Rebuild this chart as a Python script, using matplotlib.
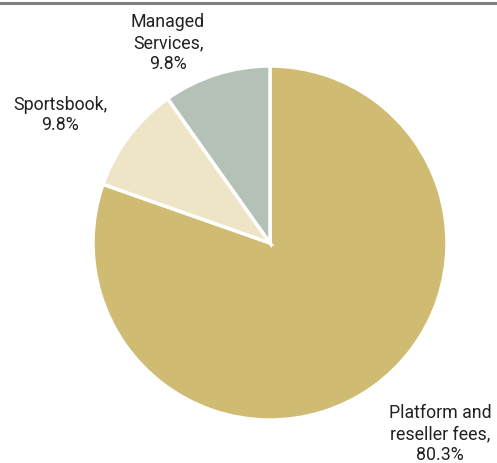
import matplotlib.pyplot as plt

# revenue mix
labels = ['Platform and\nreseller fees,', 'Sportsbook,', 'Managed\nServices,']
shares = [80.3, 9.8, 9.8]
colors = ['#CFBB72', '#EEE4C6', '#B4C1B7']

plt.rcParams['font.family'] = ['Roboto', 'DejaVu Sans']

W, H = 497, 463
cx, cy, r = 270, 243, 177

fig = plt.figure(figsize=(W / 100, H / 100), dpi=100)
ax = fig.add_axes([0, 0, 1, 1])

ax.pie(shares, colors=colors, startangle=90, counterclock=False, radius=1,
       wedgeprops=dict(edgecolor='white', linewidth=2.5))

# pie() resets the limits, so set them afterwards
ax.set_xlim(-cx / r, (W - cx) / r)
ax.set_ylim(-(H - cy) / r, cy / r)
ax.set_aspect('equal')
ax.axis('off')

# labels in pixel positions (from top-left)
label_pos = [(440, 434), (60, 115), (168, 43)]
for lab, val, (px, py) in zip(labels, shares, label_pos):
    ax.text(px / W, 1 - py / H, f'{lab}\n{val}%', transform=ax.transAxes,
            ha='center', va='center', fontsize=12.8, color='#222222',
            linespacing=1.2)

# rule along the top
fig.add_artist(plt.Line2D([0, 1], [1 - 2.5 / H, 1 - 2.5 / H], color='#808080',
                          linewidth=2.2, transform=fig.transFigure))

fig.savefig('out.png', dpi=100)
